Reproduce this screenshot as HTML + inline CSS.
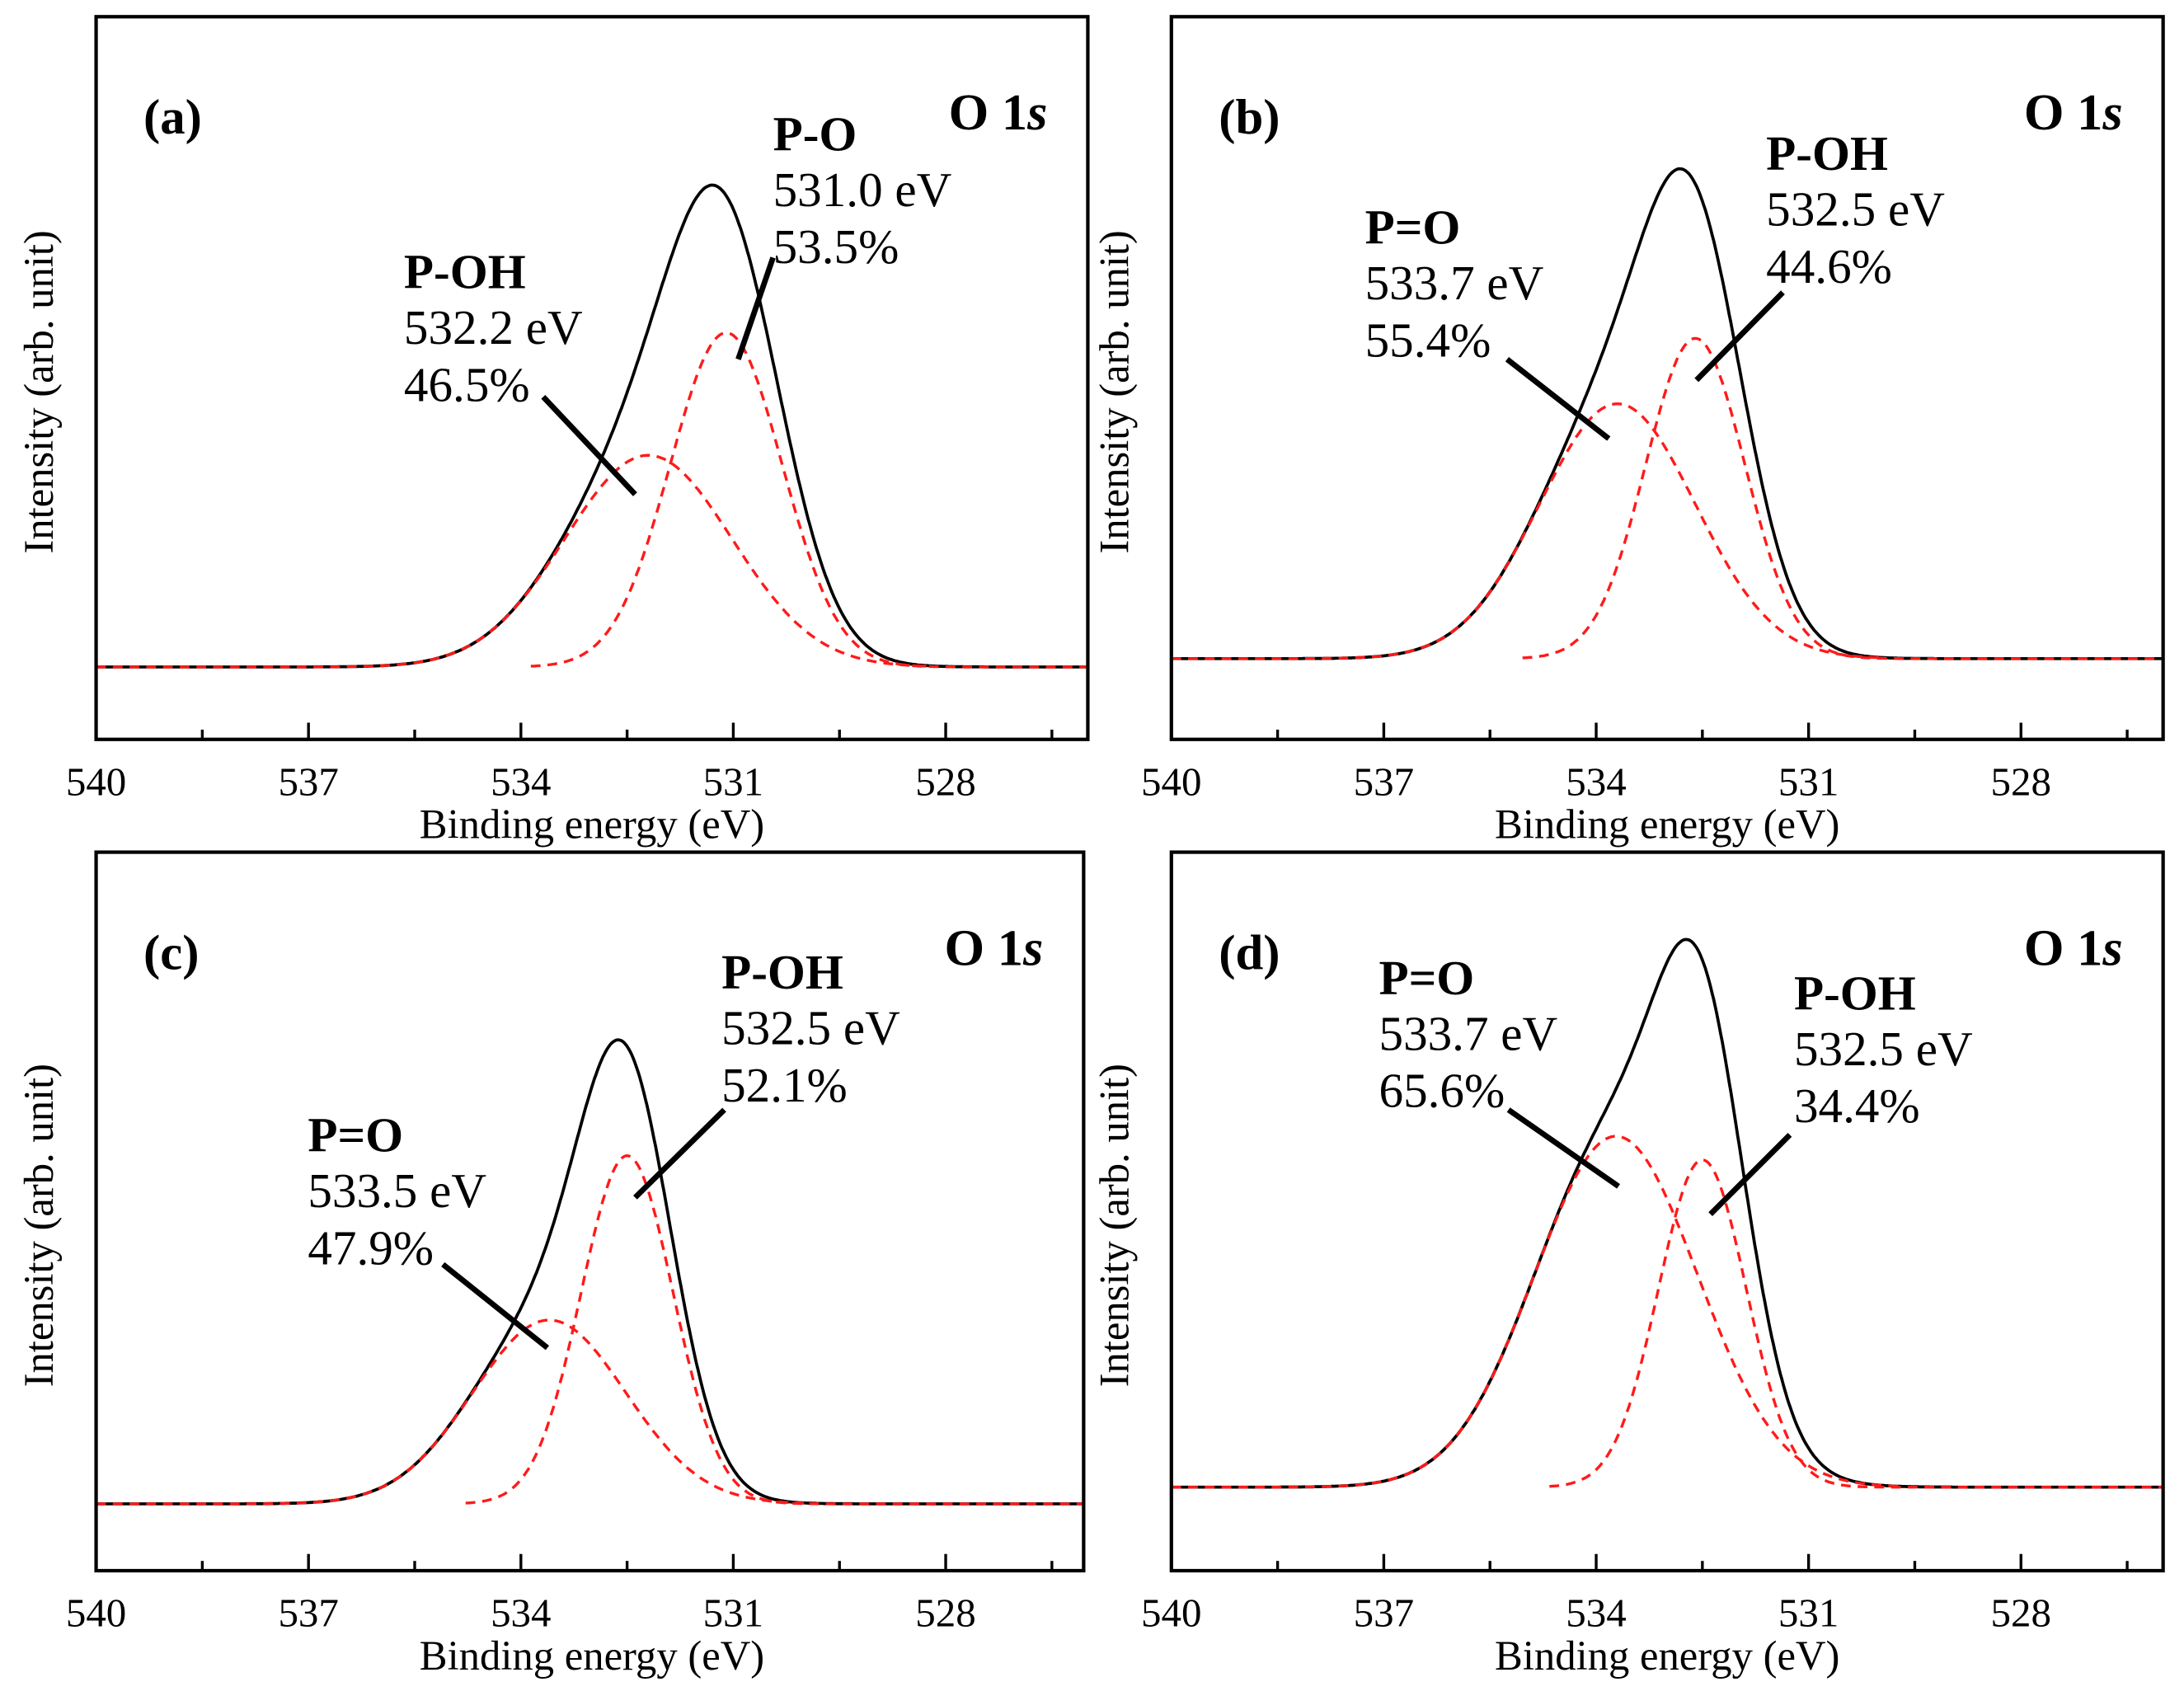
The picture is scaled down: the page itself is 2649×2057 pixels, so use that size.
<!DOCTYPE html>
<html><head><meta charset="utf-8"><style>
html,body{margin:0;padding:0;background:#fff}
svg{display:block}
text{font-family:"Liberation Serif",serif;fill:#000}
.b{font-weight:bold}
</style></head><body>
<svg id="fig" width="2649" height="2057" viewBox="0 0 1568 1218" preserveAspectRatio="none" xmlns="http://www.w3.org/2000/svg"></svg>
<script>
const panelLetters = ["(a)","(b)","(c)","(d)"];
const xTicks = [540,537,534,531,528];
const compCenters = [[531.1,532.2],[532.6,533.7],[532.5,533.6],[532.5,533.72]];
const compHeights = [[240,152],[230,183],[250,132],[235,252]];
const compSigmas  = [[0.79,1.18],[0.7,1.1],[0.65,1.08],[0.62,1.15]];
const yMins = [-52,-58,-48,-60];
const yMaxs = [467,461,468,456];
const labelNames = [["P-O","P-OH"],["P-OH","P=O"],["P-OH","P=O"],["P-OH","P=O"]];
const labelEnergies = [["531.0 eV","532.2 eV"],["532.5 eV","533.7 eV"],["532.5 eV","533.5 eV"],["532.5 eV","533.7 eV"]];
const labelPercents = [["53.5%","46.5%"],["44.6%","55.4%"],["52.1%","47.9%"],["34.4%","65.6%"]];

const boxes=[{l:69,t:12,r:781,b:531},{l:841,t:12,r:1553,b:531},{l:69,t:612,r:778,b:1128},{l:841,t:612,r:1553,b:1128}];
const labelPos=[
 [{x:555,y:96,line:[555,185,530,258]},{x:290,y:195,line:[390,285,456,355]}],
 [{x:1268,y:110,line:[1280,210,1218,273]},{x:980,y:163,line:[1082,258,1155,315]}],
 [{x:518,y:698,line:[520,797,456,860]},{x:221,y:815,line:[318,908,393,968]}],
 [{x:1288,y:713,line:[1285,815,1228,872]},{x:990,y:702,line:[1083,797,1162,852]}]
];
const NS="http://www.w3.org/2000/svg";
const svg=document.getElementById('fig');
function mk(tag,attrs,parent){const e=document.createElementNS(NS,tag);for(const k in attrs)e.setAttribute(k,attrs[k]);(parent||svg).appendChild(e);return e;}
function txt(s,x,y,size,cls,anchor,parent){const t=mk('text',{x:x,y:y,'font-size':size,'text-anchor':anchor||'start'},parent);if(cls)t.setAttribute('class',cls);t.textContent=s;return t;}

boxes.forEach((bx,p)=>{
  const g=mk('g',{});
  
  
  const pxPerEv=50.83;
  const X=e=>bx.l+(540-e)*pxPerEv;
  const Y=v=>bx.b-(v-yMins[p])/(yMaxs[p]-yMins[p])*(bx.b-bx.t);
  const eMin=540-(bx.r-bx.l)/pxPerEv;
  const gauss=(e,i)=>compHeights[p][i]*Math.exp(-Math.pow((e-compCenters[p][i])/compSigmas[p][i],2)/2);
  // index of the higher-energy (left) component owns the left tail; the other owns the right tail
  const hi = compCenters[p][0]>compCenters[p][1]?0:1;
  let dT='',dc=['',''],started=[false,false];
  for(let e=540;e>=eMin;e-=0.02){
    const v=[gauss(e,0),gauss(e,1)];
    dT+=(e===540?'M':'L')+X(e).toFixed(1)+','+Y(v[0]+v[1]).toFixed(1);
    for(let i=0;i<2;i++){
      const own = (i===hi) ? (e>compCenters[p][i] || v[i]>0.5) : (e<compCenters[p][i] || v[i]>0.5);
      if(own){dc[i]+=(started[i]?'L':'M')+X(e).toFixed(1)+','+Y(v[i]).toFixed(1);started[i]=true;}
    }
  }
  const env=mk('path',{d:dT,fill:'none',stroke:'#000','stroke-width':2.2},g);
  
  
  dc.forEach((d,i)=>{
    const c=mk('path',{d:d,fill:'none',stroke:'#ff1a1a','stroke-width':2,'stroke-dasharray':'7,5'},g);
    
    
  });
  const fr=mk('rect',{x:bx.l,y:bx.t,width:bx.r-bx.l,height:bx.b-bx.t,fill:'none',stroke:'#000','stroke-width':2.5},g);
  
  
  for(let e=540;e>eMin;e-=1.5){
    const major=Math.abs((540-e)%3)<0.01;
    const tk=mk('line',{x1:X(e),x2:X(e),y1:bx.b,y2:bx.b-(major?12:7),stroke:'#000','stroke-width':2},g);
    
    
  }
  xTicks.forEach(v=>{
    const t=txt(String(v),X(v),bx.b+40,29,'','middle',g);
    
    
  });
  const xt=txt('Binding energy (eV)',bx.l+356,bx.b+71,30,'','middle',g);
  
  
  const yt=txt('Intensity (arb. unit)',0,0,30,'','middle',g);
  yt.setAttribute('transform','translate('+(bx.l-31)+','+((bx.t+bx.b)/2+10)+') rotate(-90)');
  
  
  const pl=txt(panelLetters[p],bx.l+34,bx.t+84,36,'b','start',g);
  
  
  const o=mk('text',{x:bx.r-29,y:bx.t+81,'font-size':37,'text-anchor':'end','class':'b'},g);
  o.innerHTML='O 1<tspan font-style="italic">s</tspan>';
  
  
  labelPos[p].forEach((lp,i)=>{
    const t1=txt(labelNames[p][i],lp.x,lp.y+12,35,'b','start',g);
    
    
    const t2=txt(labelEnergies[p][i],lp.x,lp.y+52,35,'','start',g);
    
    
    const t3=txt(labelPercents[p][i],lp.x,lp.y+93,35,'','start',g);
    
    
    const ln=mk('line',{x1:lp.line[0],y1:lp.line[1],x2:lp.line[2],y2:lp.line[3],stroke:'#000','stroke-width':4},g);
    
    
  });
});
</script>
</body></html>
